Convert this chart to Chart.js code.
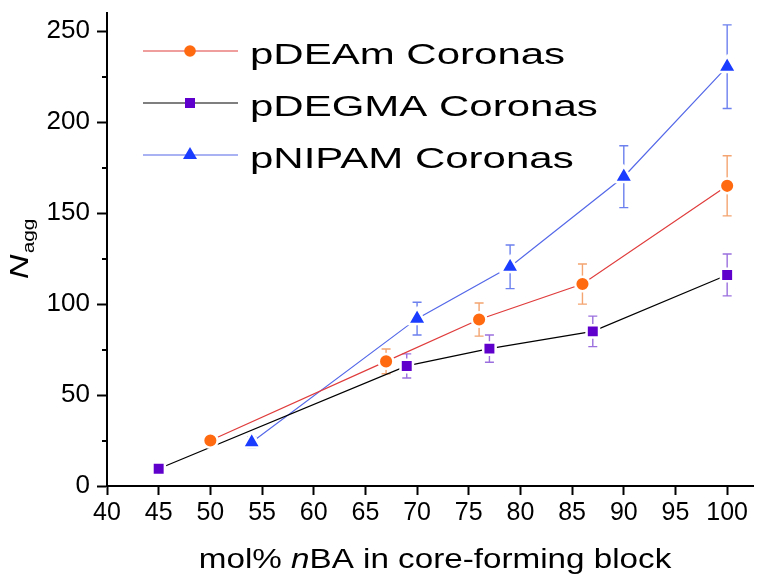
<!DOCTYPE html>
<html>
<head>
<meta charset="utf-8">
<script src="https://cdn.jsdelivr.net/npm/chart.js@4"></script>
<style>
  html, body { margin: 0; background: #fff; }
</style>
</head>
<body>
<canvas id="chart" width="766" height="581"></canvas>
<script>
// --- Data ---
const deamX = [50, 67, 76, 86, 100];
const deamY = [25, 68.5, 91.5, 111, 165];
const deamErr = [0, 6.8, 9.1, 11, 16.5];

const degmaX = [45, 69, 77, 87, 100];
const degmaY = [9.5, 66, 75.5, 85, 116];
const degmaErr = [0, 6.6, 7.5, 8.4, 11.5];

const nipamX = [54, 70, 79, 90, 100];
const nipamY = [24, 92, 120.5, 170, 230.5];
const nipamErr = [3, 9, 12, 17, 23];

const seriesLabels = ['pDEAm Coronas', 'pDEGMA Coronas', 'pNIPAM Coronas'];
const xTitle = [['mol% ', ''], ['n', 'italic '], ['BA in core-forming block', '']];
const yTitleMain = 'N';
const yTitleSub = 'agg';

const FONT = '"Liberation Sans", Arial, sans-serif';

function toPoints(xs, ys) {
    return xs.map((x, i) => ({ x: x, y: ys[i] }));
}

// --- Marker helper (legend only) ---
function drawMarker(ctx, style, x, y, color) {
    ctx.fillStyle = color;
    ctx.beginPath();
    if (style === 'circle') {
        ctx.arc(x, y, 5.8, 0, Math.PI * 2);
    } else if (style === 'rect') {
        ctx.rect(x - 5, y - 5, 10, 10);
    } else {
        const w = 14, h = w * 0.866;
        ctx.moveTo(x, y - h * 2 / 3);
        ctx.lineTo(x + w / 2, y + h / 3);
        ctx.lineTo(x - w / 2, y + h / 3);
        ctx.closePath();
    }
    ctx.fill();
}

// --- Plugins ---
const errorBars = {
    id: 'errorBars',
    beforeDatasetsDraw(chart) {
        const ctx = chart.ctx;
        const xs = chart.scales.x, ys = chart.scales.y;
        chart.data.datasets.forEach(ds => {
            ctx.save();
            ctx.strokeStyle = ds.errorColor;
            ctx.lineWidth = 1.4;
            ds.data.forEach((p, j) => {
                const e = ds.errors[j];
                if (!e) return;
                const px = xs.getPixelForValue(p.x);
                const top = ys.getPixelForValue(p.y + e);
                const bot = ys.getPixelForValue(p.y - e);
                ctx.beginPath();
                ctx.moveTo(px, top); ctx.lineTo(px, bot);
                ctx.moveTo(px - 4.5, top); ctx.lineTo(px + 4.5, top);
                ctx.moveTo(px - 4.5, bot); ctx.lineTo(px + 4.5, bot);
                ctx.stroke();
            });
            ctx.restore();
        });
    }
};

const minorTicks = {
    id: 'minorTicks',
    afterDraw(chart) {
        const ctx = chart.ctx;
        const ys = chart.scales.y;
        const left = chart.chartArea.left;
        ctx.save();
        ctx.strokeStyle = '#000';
        ctx.lineWidth = 2;
        for (let v = 25; v < 260; v += 50) {
            const py = Math.round(ys.getPixelForValue(v));
            ctx.beginPath();
            ctx.moveTo(left - 5, py); ctx.lineTo(left, py);
            ctx.stroke();
        }
        ctx.restore();
    }
};

const insideLegend = {
    id: 'insideLegend',
    afterDatasetsDraw(chart) {
        const ctx = chart.ctx;
        chart.data.datasets.forEach((ds, i) => {
            const y = 51 + i * 52;
            ctx.save();
            ctx.strokeStyle = ds.borderColor;
            ctx.lineWidth = 1.2;
            ctx.beginPath();
            ctx.moveTo(143, y); ctx.lineTo(238, y);
            ctx.stroke();
            drawMarker(ctx, ds.pointStyle, 190, y, ds.pointBackgroundColor);
            ctx.font = '30px ' + FONT;
            ctx.fillStyle = '#000';
            ctx.textBaseline = 'alphabetic';
            ctx.translate(250, y + 12.5);
            ctx.scale(1.4, 1);
            ctx.fillText(ds.label, 0, 0);
            ctx.restore();
        });
    }
};

const axisTitles = {
    id: 'axisTitles',
    afterDraw(chart) {
        const ctx = chart.ctx;
        const area = chart.chartArea;

        // x title, mixed upright / italic
        ctx.save();
        ctx.fillStyle = '#000';
        ctx.textBaseline = 'alphabetic';
        let total = 0;
        const widths = xTitle.map(([t, style]) => {
            ctx.font = style + '27px ' + FONT;
            const w = ctx.measureText(t).width;
            total += w;
            return w;
        });
        const sx = 1.23;
        const cx = (area.left + area.right) / 2 + 5;
        ctx.translate(cx - total * sx / 2, 568);
        ctx.scale(sx, 1);
        let off = 0;
        xTitle.forEach(([t, style], i) => {
            ctx.font = style + '27px ' + FONT;
            ctx.fillText(t, off, 0);
            off += widths[i];
        });
        ctx.restore();

        // y title, rotated N with subscript
        ctx.save();
        ctx.fillStyle = '#000';
        ctx.font = 'italic 26px ' + FONT;
        const wN = ctx.measureText(yTitleMain).width;
        ctx.font = '16px ' + FONT;
        const wSub = ctx.measureText(yTitleSub).width;
        const sy = 1.3;
        const len = (wN + wSub) * sy;
        const cy = (area.top + area.bottom) / 2;
        ctx.translate(28, cy + len / 2);
        ctx.rotate(-Math.PI / 2);
        ctx.scale(sy, 1);
        ctx.font = 'italic 26px ' + FONT;
        ctx.fillText(yTitleMain, 0, 0);
        ctx.font = '16px ' + FONT;
        ctx.fillText(yTitleSub, wN + 1, 6);
        ctx.restore();
    }
};

// --- Chart ---
const ctx = document.getElementById('chart').getContext('2d');

new Chart(ctx, {
    type: 'line',
    data: {
        datasets: [
            {
                label: seriesLabels[0],
                data: toPoints(deamX, deamY),
                errors: deamErr,
                errorColor: '#f4a470',
                borderColor: '#e03c3c',
                borderWidth: 1.2,
                pointStyle: 'circle',
                pointRadius: 7.3,
                pointBackgroundColor: '#ff6a10',
                pointBorderColor: '#fff',
                pointBorderWidth: 2.5,
                tension: 0
            },
            {
                label: seriesLabels[1],
                data: toPoints(degmaX, degmaY),
                errors: degmaErr,
                errorColor: '#9b70de',
                borderColor: '#000',
                borderWidth: 1.2,
                pointStyle: 'rect',
                pointRadius: 8.8,
                pointBackgroundColor: '#6000cc',
                pointBorderColor: '#fff',
                pointBorderWidth: 2.5,
                tension: 0
            },
            {
                label: seriesLabels[2],
                data: toPoints(nipamX, nipamY),
                errors: nipamErr,
                errorColor: '#6c80ee',
                borderColor: '#5468e8',
                borderWidth: 1.2,
                pointStyle: 'triangle',
                pointRadius: 10.5,
                pointBackgroundColor: '#1a3cff',
                pointBorderColor: '#fff',
                pointBorderWidth: 2.5,
                tension: 0
            }
        ]
    },
    options: {
        responsive: false,
        animation: false,
        layout: { padding: { top: 3, right: 3, bottom: 0, left: 0 } },
        plugins: {
            legend: { display: false },
            tooltip: { enabled: false }
        },
        scales: {
            x: {
                type: 'linear',
                min: 40,
                max: 102.5,
                afterFit: s => { s.height = 95; s.paddingLeft = 0; s.paddingRight = 0; },
                ticks: {
                    stepSize: 5,
                    includeBounds: false,
                    color: '#000',
                    padding: 3,
                    maxRotation: 0,
                    autoSkip: false,
                    font: { family: FONT, size: 25 }
                },
                grid: {
                    drawOnChartArea: false,
                    drawTicks: true,
                    tickLength: 9,
                    tickWidth: 2,
                    tickColor: '#000'
                },
                border: { color: '#000', width: 2 }
            },
            y: {
                min: 0,
                max: 260,
                afterFit: s => { s.width = 107; s.paddingTop = 0; s.paddingBottom = 0; },
                ticks: {
                    stepSize: 50,
                    includeBounds: false,
                    color: '#000',
                    padding: 7,
                    font: { family: FONT, size: 26 }
                },
                grid: {
                    drawOnChartArea: false,
                    drawTicks: true,
                    tickLength: 10,
                    tickWidth: 2,
                    tickColor: '#000'
                },
                border: { color: '#000', width: 2 }
            }
        }
    },
    plugins: [errorBars, insideLegend, minorTicks, axisTitles]
});
</script>
</body>
</html>
